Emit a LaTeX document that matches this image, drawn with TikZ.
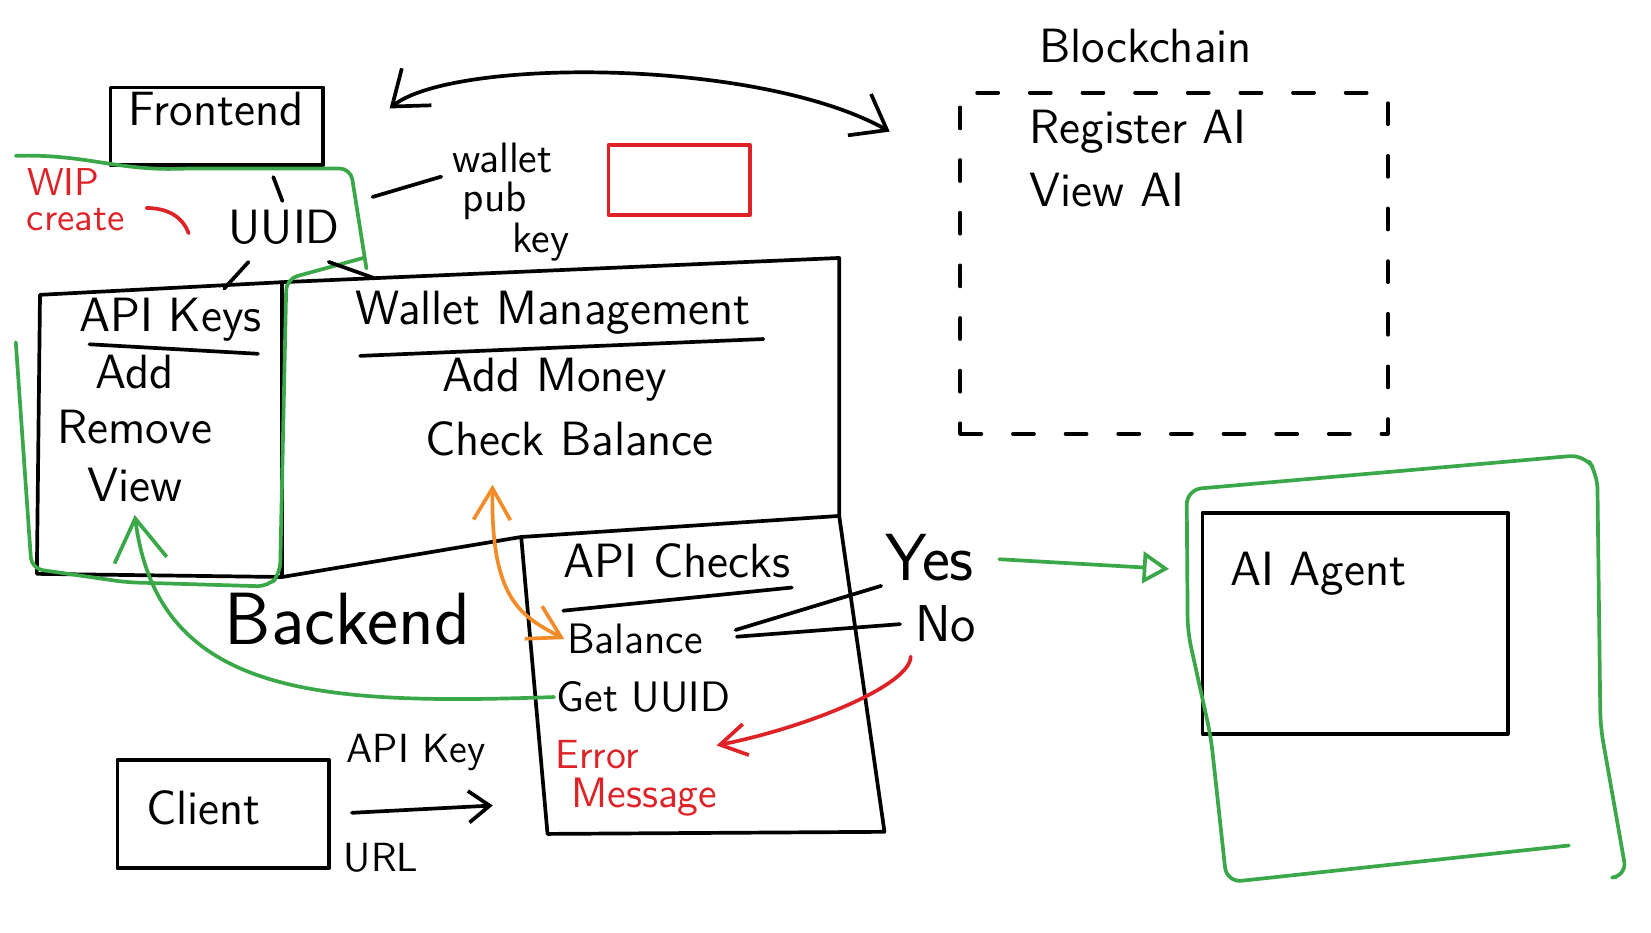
\documentclass[tikz,border=0pt]{standalone}
\usepackage{tikz}
\usetikzlibrary{positioning}
\usetikzlibrary{calc}
\usetikzlibrary{arrows.meta}

\definecolor{penGreen}{RGB}{58,168,72}
\definecolor{penRed}{RGB}{222,35,40}
\definecolor{penOrange}{RGB}{242,140,40}

\begin{document}
\begin{tikzpicture}[x=0.1mm, y=-0.1mm,
	pen/.style={line width=1pt, line cap=round, line join=round},
	txt/.style={font=\sffamily\fontsize{13}{15}\selectfont, inner sep=0.5pt, text height=9.5pt, text depth=3pt},
	item/.style={font=\sffamily\fontsize{11.5}{14}\selectfont, inner sep=0.5pt},
	small/.style={font=\sffamily\fontsize{11}{13}\selectfont, inner sep=0pt},
	box/.style={pen, draw, rectangle, inner sep=0pt},
	barb/.style={-{Straight Barb[length=2.5mm, width=3mm]}},
	bigbarb/.style={-{Straight Barb[length=4mm, width=5mm]}},
	]
	\useasboundingbox (0,0) rectangle (1568,886);

	% Level 1: frontend & blockchain
	\node [box, minimum width=20.2mm, minimum height=7.4mm] at (206,120) (1Frontend) {};
	\node [txt] at (205,108) (1FrontendTxt) {Frontend};
	\node [txt] at (1088,48) (1ChainTxt) {Blockchain};
	\node [box, dash pattern=on 2mm off 3mm, minimum width=40.6mm, minimum height=32.4mm] at (1115,250) (1Chain) {};
	\node [txt, anchor=west] at (975,125) (1Register) {Register AI};
	\node [txt, anchor=west] at (975,185) (1ViewAI) {View AI};
	\coordinate (1FrontArrow) at (370,103);
	\coordinate (1ChainArrow) at (845,125);

	% WIP note
	\node [small, font=\sffamily\fontsize{10.5}{12}\selectfont, text=penRed] at (60,173) (0WIP) {WIP};
	\node [small, font=\sffamily\fontsize{10.5}{12}\selectfont, text=penRed] at (72,209) (0Create) {create};

	% Level 2
	\node [txt] at (270,220) (2UUID) {UUID};
	\node [small, font=\sffamily\fontsize{11.5}{14}\selectfont] at (477,150) (2Wallet) {wallet};
	\node [small, font=\sffamily\fontsize{11.5}{14}\selectfont] at (470,191) (2Pub) {pub};
	\node [small, font=\sffamily\fontsize{11.5}{14}\selectfont] at (514,230) (2Key) {key};
	\node [box, draw=penRed, minimum width=13.4mm, minimum height=6.7mm] at (645,171) (2RedBox) {};

	% Level 3: backend outline
	\draw [pen] (38,280) -- (268,268) -- (797,245) -- (797,490) -- (840,790) -- (520,792) -- (495,510) -- (268,548) -- (35,545) -- cycle;
	\draw [pen] (268,268) -- (268,548);
	\draw [pen] (495,510) -- (797,490);
	\coordinate (3KeysTop) at (213,274);
	\coordinate (3WalletTop) at (355,264);

	\node [txt] at (162,303) (3APIKeys) {API Keys};
	\draw [pen] (85,327) -- (245,336);
	\node [txt] at (128,358) (3Add) {Add};
	\node [txt, below=0.3mm of 3Add] (3Remove) {Remove};
	\node [txt, below=0.6mm of 3Remove] (3View) {View};

	\node [txt] at (525,297) (3Wallet) {Wallet Management};
	\draw [pen] (342,338) -- (725,322);
	\node [txt] at (527,360) (3AddMoney) {Add Money};
	\node [txt, below=1.2mm of 3AddMoney, xshift=1.4mm] (3CheckBal) {Check Balance};

	% Level 4
	\node [font=\sffamily\fontsize{20}{24}\selectfont, inner sep=1pt] at (330,588) (4Backend) {Backend};
	\node [txt] at (643,537) (4Checks) {API Checks};
	\draw [pen] (535,580) -- (752,558);
	\node [item] at (603,607) (4Balance) {Balance};
	\node [item] at (611,662) (4GetUUID) {Get UUID};
	\node [small, text=penRed, anchor=west] at (527,717) (4Error) {Error};
	\node [item, text=penRed] at (612,757) (4Message) {Message};

	% Level 5
	\node [font=\sffamily\fontsize{18}{22}\selectfont, inner sep=1pt] at (883,530) (5Yes) {Yes};
	\node [font=\sffamily\fontsize{14}{17}\selectfont, inner sep=1pt] at (898,592) (5No) {No};

	% Level 6: AI agent & client
	\node [box, minimum width=29mm, minimum height=21mm] at (1287,592) (6AIAgent) {};
	\node [txt] at (1252,545) (6AIAgentTxt) {AI Agent};
	\node [box, minimum width=20.1mm, minimum height=10.3mm] at (212,773) (6Client) {};
	\node [txt] at (193,772) (6ClientTxt) {Client};
	\coordinate (6ClientTip) at (468,765);
	\node [small] at (395,715) (6APIKey) {API Key};
	\node [small] at (362,815) (6URL) {URL};

	% Green outlines
	\draw [pen, draw=penGreen, rounded corners=3pt] (15,148) .. controls (80,146) and (110,162) .. (180,160) -- (333,160) -- (348,255);
	\draw [pen, draw=penGreen, rounded corners=3pt] (345,245) -- (272,265) -- (266,545) -- (255,557) -- (120,553) -- (30,540) -- (15,325);
	\draw [pen, draw=penGreen, rounded corners=4pt] (1490,803) -- (1165,838) -- (1150,700) -- (1128,600) -- (1127,465) -- (1505,432) -- (1517,450) -- (1520,690) -- (1545,832) -- (1535,833);

	% Connections
	\draw [pen, shorten <=1mm, shorten >=0.5mm] ([xshift=5mm]1Frontend.south) -- (node cs:name=2UUID, anchor=north);
	\draw [pen, shorten <=0.6mm] ([xshift=-3mm]2UUID.south) -- (3KeysTop);
	\draw [pen, shorten <=1.3mm] ([xshift=3mm]2UUID.south) -- (3WalletTop);
	\draw [pen, shorten <=3mm, shorten >=1mm] (node cs:name=2UUID, anchor=north east) -- (node cs:name=2Wallet, anchor=south west);
	\draw [pen, draw=penRed] ([xshift=2mm]0Create.north east) to[out=0, in=110] ++(40,24);
	\draw [pen, {Straight Barb[length=3mm, width=4.5mm]}-{Straight Barb[length=3mm, width=4.5mm]}] (1FrontArrow) .. controls (430,55) and (720,55) .. (1ChainArrow);
	\draw [pen, shorten <=3mm] (node cs:name=4Balance, anchor=east) -- (node cs:name=5Yes, anchor=south west);
	\draw [pen, shorten <=3mm, shorten >=1mm] (node cs:name=4Balance, anchor=east) -- (node cs:name=5No, anchor=west);
	\draw [pen, draw=penRed, barb, shorten <=1mm] (5No.south west) .. controls (865,650) and (770,690) .. ([xshift=7.3mm, yshift=0.9mm]4Error.east);
	\draw [pen, draw=penGreen, -{Triangle[open, length=2.5mm, width=3mm]}, shorten <=2mm, shorten >=3mm] (5Yes.east) -- ([yshift=5mm]6AIAgent.west);
	\draw [pen, draw=penOrange, {Straight Barb[length=3mm, width=3.5mm]}-{Straight Barb[length=3mm, width=3.5mm]}, shorten <=1.5mm] ([xshift=-7.3mm]3CheckBal.south) .. controls (466,570) and (495,585) .. (4Balance.west);
	\draw [pen, draw=penGreen, bigbarb] (4GetUUID.west) .. controls (300,670) and (150,660) .. (3View.south);
	\draw [pen, -{Straight Barb[length=2mm, width=3mm]}, shorten <=2mm] (6Client.east) -- (6ClientTip);

\end{tikzpicture}
\end{document}
